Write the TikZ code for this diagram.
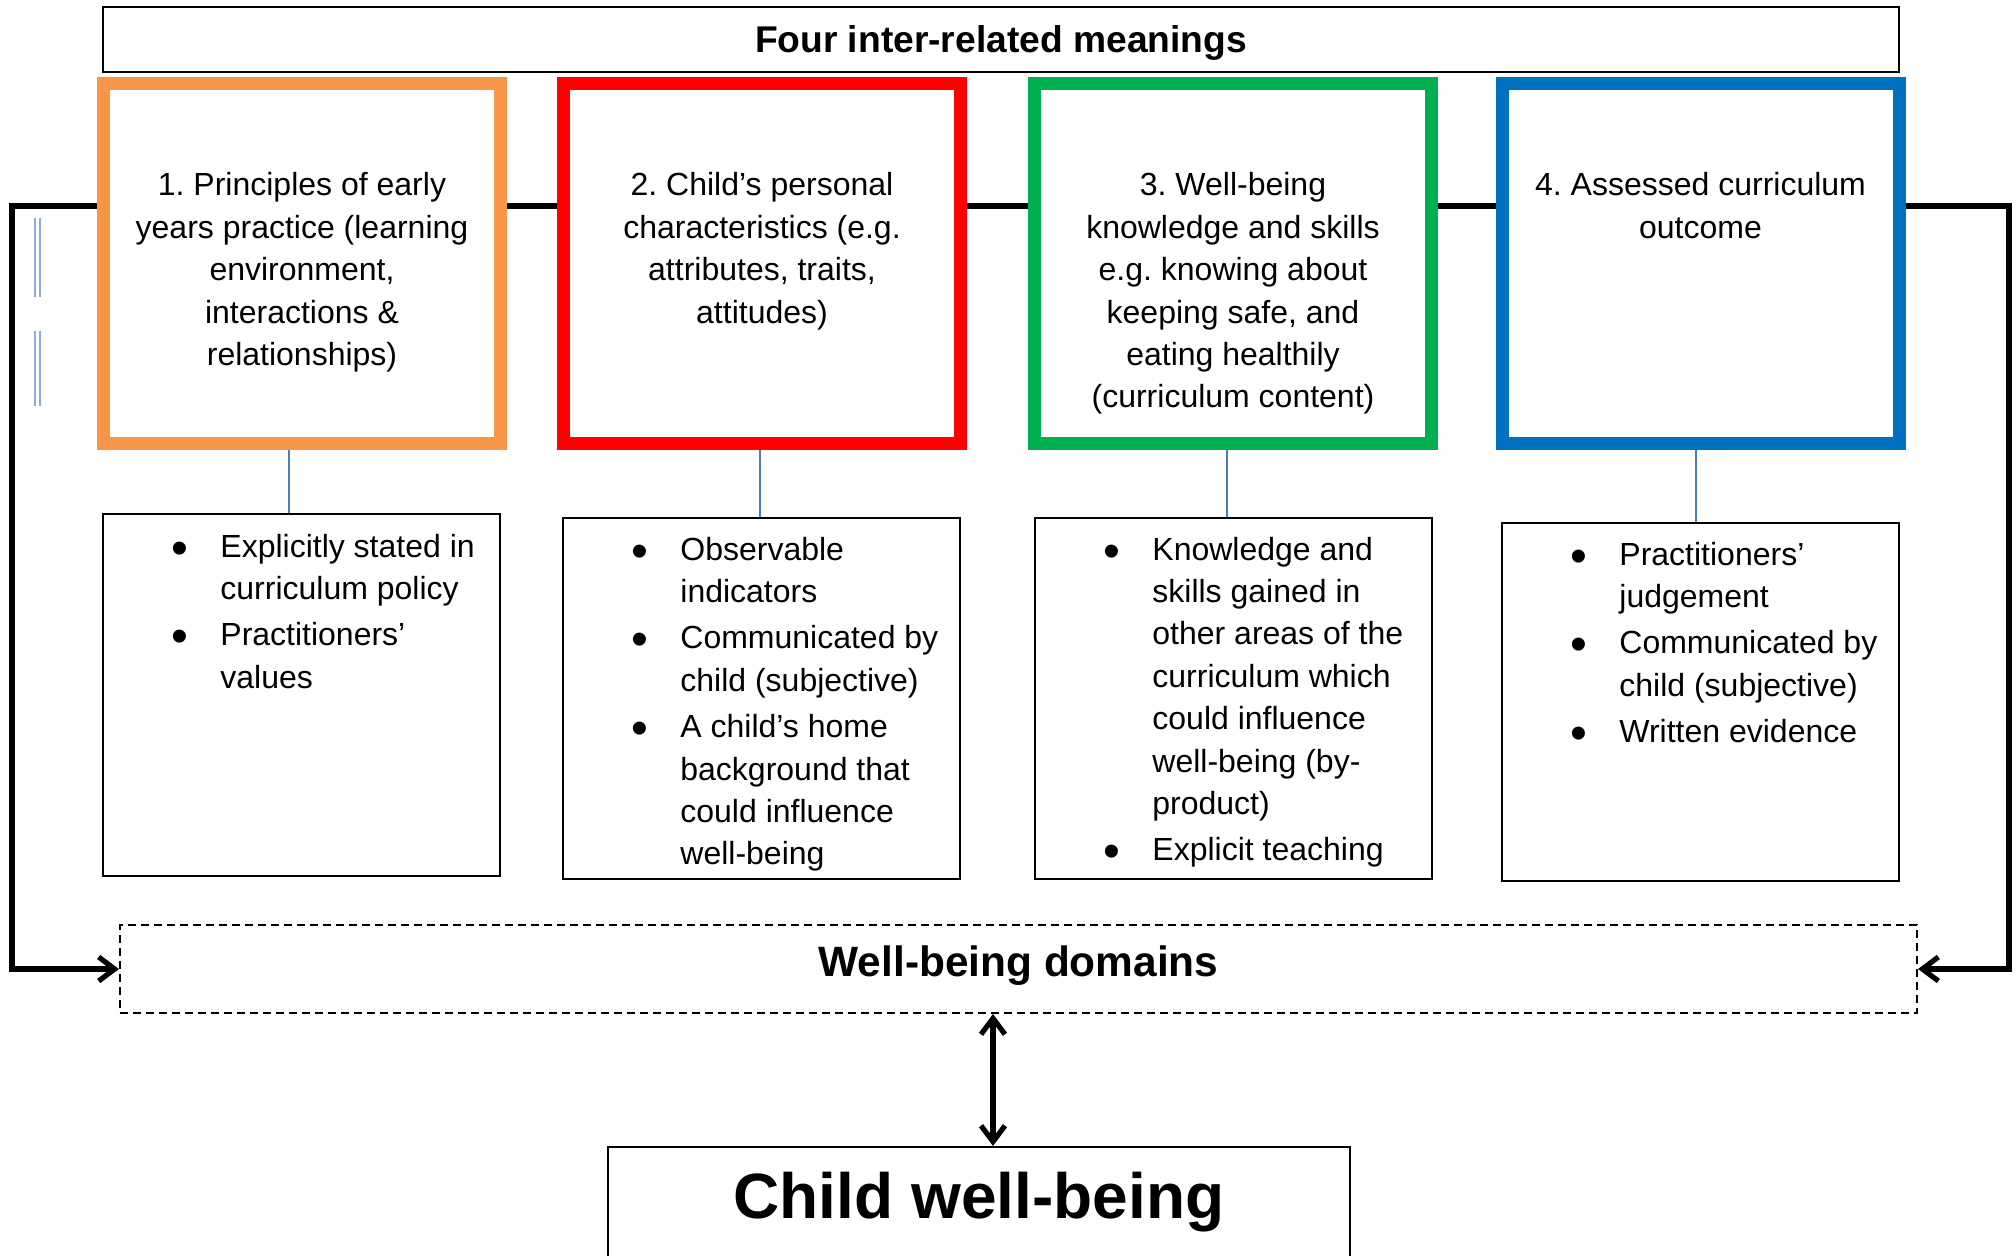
\documentclass[tikz,border=0pt]{standalone}
\usepackage{fontspec}
\setmainfont{Liberation Sans}
\usetikzlibrary{arrows.meta}
\definecolor{cone}{HTML}{F79646}
\definecolor{ctwo}{HTML}{FF0000}
\definecolor{cthree}{HTML}{00B050}
\definecolor{cfour}{HTML}{0070C0}
\definecolor{linkblue}{HTML}{4A7EBB}
\definecolor{dblblue}{HTML}{8FAADC}
\newcommand\bul{\raisebox{-3.5pt}{\fontsize{24pt}{24pt}\selectfont\textbullet}}
\newcommand\bodyfont{\fontsize{16pt}{21.2pt}\selectfont\frenchspacing}
\tikzset{
  meaning/.style={draw, line width=6.5pt, fill=white, minimum width=198.5pt, minimum height=180pt, inner sep=0pt},
  detail/.style={draw, line width=1pt, fill=white, minimum width=198.5pt, inner sep=0pt},
  boxtext/.style={anchor=base, inner sep=0pt, font=\bodyfont},
  listtext/.style={anchor=base west, inner sep=0pt, font=\bodyfont},
  link/.style={draw=linkblue, line width=0.8pt},
  frame/.style={line width=3pt},
  bigarrow/.style={line width=3pt, -{Straight Barb[length=8pt,width=12pt,line width=2.6pt]}},
  twoarrow/.style={line width=3pt, {Straight Barb[length=8pt,width=12pt,line width=2.6pt]}-{Straight Barb[length=8pt,width=12pt,line width=2.6pt]}},
  dblline/.style={draw=dblblue, line width=1pt}
}
\begin{document}
\frenchspacing
\begin{tikzpicture}[x=0.5pt,y=-0.5pt]
\useasboundingbox (0,0) rectangle (2016,1256);
\clip (0,0) rectangle (2016,1256);

% title
\node[draw, line width=1pt, minimum width=898pt, minimum height=32.5pt, inner sep=0pt, text depth=0pt,
      font=\fontsize{18.6pt}{22pt}\selectfont\bfseries] (title) at (1001,39.5) {Four inter-related meanings};

% meaning boxes
\node[meaning, draw=cone]   (b1) at (302,264) {};
\node[meaning, draw=ctwo]   (b2) at (762,264) {};
\node[meaning, draw=cthree] (b3) at (1233,264) {};
\node[meaning, draw=cfour]  (b4) at (1700.5,264) {};

\node[boxtext] (t1) at (302,196) {\begin{tabular}[t]{@{}c@{}}1. Principles of early\\ years practice (learning\\ environment,\\ interactions \&\\ relationships)\end{tabular}};
\node[boxtext] (t2) at (762,196) {\begin{tabular}[t]{@{}c@{}}2. Child’s personal\\ characteristics (e.g.\\ attributes, traits,\\ attitudes)\end{tabular}};
\node[boxtext] (t3) at (1233,196) {\begin{tabular}[t]{@{}c@{}}3. Well-being\\ knowledge and skills\\ e.g. knowing about\\ keeping safe, and\\ eating healthily\\ (curriculum content)\end{tabular}};
\node[boxtext] (t4) at (1700.5,196) {\begin{tabular}[t]{@{}c@{}}4. Assessed curriculum\\ outcome\end{tabular}};

% detail boxes
\node[detail, minimum height=181pt]   (l1) at (301.5,695) {};
\node[detail, minimum height=180.5pt] (l2) at (761.5,698.5) {};
\node[detail, minimum height=180.5pt] (l3) at (1233.5,698.5) {};
\node[detail, minimum height=179pt]   (l4) at (1700.5,702) {};

\node[listtext] (d1) at (170.6,557) {\begin{tabular}[t]{@{}c@{\hspace{16.3pt}}l@{}}
\bul & Explicitly stated in\\ & curriculum policy\\[2pt]
\bul & Practitioners’\\ & values\end{tabular}};
\node[listtext] (d2) at (630.6,560) {\begin{tabular}[t]{@{}c@{\hspace{16.3pt}}l@{}}
\bul & Observable\\ & indicators\\[2pt]
\bul & Communicated by\\ & child (subjective)\\[2pt]
\bul & A child’s home\\ & background that\\ & could influence\\ & well-being\end{tabular}};
\node[listtext] (d3) at (1102.6,560) {\begin{tabular}[t]{@{}c@{\hspace{16.3pt}}l@{}}
\bul & Knowledge and\\ & skills gained in\\ & other areas of the\\ & curriculum which\\ & could influence\\ & well-being (by-\\ & product)\\[2pt]
\bul & Explicit teaching\end{tabular}};
\node[listtext] (d4) at (1569.6,565) {\begin{tabular}[t]{@{}c@{\hspace{16.3pt}}l@{}}
\bul & Practitioners’\\ & judgement\\[2pt]
\bul & Communicated by\\ & child (subjective)\\[2pt]
\bul & Written evidence\end{tabular}};

% links meaning -> detail
\draw[link] (b1.south -| 289,0) -- (l1.north -| 289,0);
\draw[link] (b2.south -| 760,0) -- (l2.north -| 760,0);
\draw[link] (b3.south -| 1227,0) -- (l3.north -| 1227,0);
\draw[link] (b4.south -| 1696,0) -- (l4.north -| 1696,0);

% domains and child
\node[draw, dashed, dash pattern=on 4pt off 2.5pt, line width=1pt, minimum width=898.5pt, minimum height=44pt, inner sep=0pt,
      text height=15.5pt, text depth=8.5pt,
      font=\fontsize{21.2pt}{25pt}\selectfont\bfseries] (dom) at (1018.5,969) {Well-being domains};
\node[draw, line width=1pt, minimum width=371pt, minimum height=76.5pt, inner sep=0pt] (child) at (979,1223.5) {};
\node[anchor=base, inner sep=0pt, font=\fontsize{32pt}{38pt}\selectfont\bfseries] (childtext) at (979,1218) {Child well-being};

% frame line and arrows
\coordinate (lt) at (12,206);
\coordinate (rt) at (2009,206);
\coordinate (ax) at (993,0);
\draw[frame] (b1.east |- lt) -- (b2.west |- lt);
\draw[frame] (b2.east |- lt) -- (b3.west |- lt);
\draw[frame] (b3.east |- lt) -- (b4.west |- lt);
\draw[bigarrow] (b1.west |- lt) -- (lt) |- (dom.west);
\draw[bigarrow] (b4.east |- rt) -- (rt) |- (dom.east);
\draw[twoarrow] (dom.south -| ax) -- (child.north -| ax);

% small double lines at left
\draw[dblline] (35,218) -- (35,297);
\draw[dblline] (40,218) -- (40,297);
\draw[dblline] (35,331) -- (35,406);
\draw[dblline] (40,331) -- (40,406);
\end{tikzpicture}
\end{document}
